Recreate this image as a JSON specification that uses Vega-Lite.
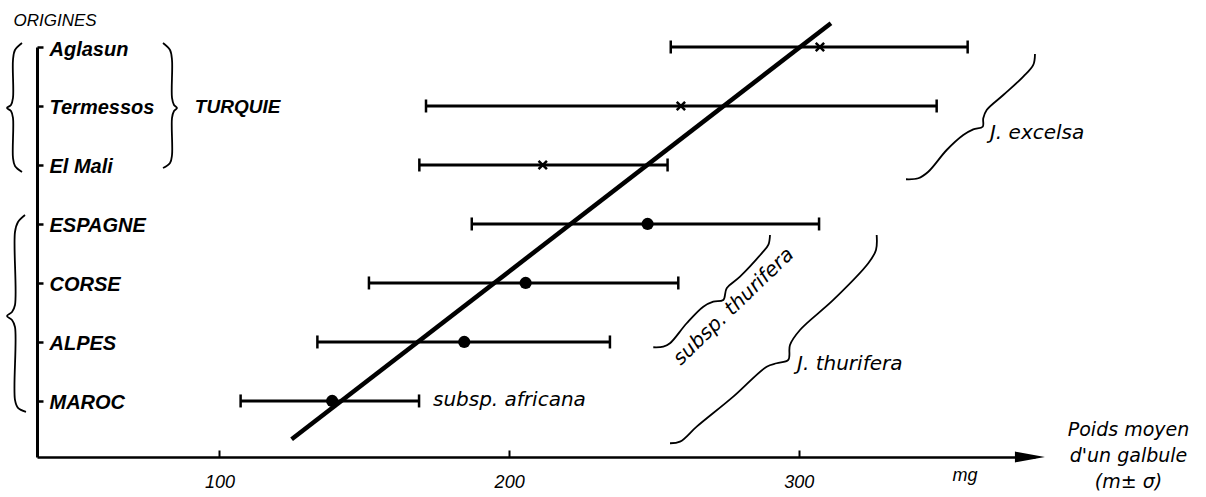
{
  "$schema": "https://vega.github.io/schema/vega-lite/v6.json",
  "width": 998,
  "height": 410,
  "autosize": "none",
  "padding": {"left": 37, "top": 47, "right": 171, "bottom": 40},
  "background": "white",
  "config": {"view": {"stroke": null}},
  "datasets": {
    "origins": [
      {"name": "Aglasun", "grp": "TURQUIE", "y": 7, "x": 307.3, "lo": 255.8, "hi": 358.3},
      {"name": "Termessos", "grp": "TURQUIE", "y": 6, "x": 259.3, "lo": 171.3, "hi": 347.6},
      {"name": "El Mali", "grp": "TURQUIE", "y": 5, "x": 211.6, "lo": 169.0, "hi": 254.7},
      {"name": "ESPAGNE", "grp": "thurifera", "y": 4, "x": 247.8, "lo": 187.1, "hi": 307.0},
      {"name": "CORSE", "grp": "thurifera", "y": 3, "x": 205.7, "lo": 151.6, "hi": 258.4},
      {"name": "ALPES", "grp": "thurifera", "y": 2, "x": 184.5, "lo": 133.8, "hi": 234.8},
      {"name": "MAROC", "grp": "africana", "y": 1, "x": 138.9, "lo": 107.3, "hi": 168.9}
    ],
    "fit": [
      {"i": 0, "x": 124.9, "y": 0.351},
      {"i": 1, "x": 311.1, "y": 7.402}
    ],
    "arrow": [{"x": 379.8, "y": 0.05}],
    "braces": [
      {"id": "b1", "i": 0, "x": 31.82, "y": 7.068},
      {"id": "b1", "i": 1, "x": 29.4, "y": 6.949},
      {"id": "b1", "i": 2, "x": 28.71, "y": 6.78},
      {"id": "b1", "i": 3, "x": 28.71, "y": 6.136},
      {"id": "b1", "i": 4, "x": 28.02, "y": 6.017},
      {"id": "b1", "i": 5, "x": 26.64, "y": 5.966},
      {"id": "b1", "i": 6, "x": 28.02, "y": 5.915},
      {"id": "b1", "i": 7, "x": 28.71, "y": 5.797},
      {"id": "b1", "i": 8, "x": 28.71, "y": 5.119},
      {"id": "b1", "i": 9, "x": 29.4, "y": 4.983},
      {"id": "b1", "i": 10, "x": 31.82, "y": 4.881},
      {"id": "b2", "i": 0, "x": 80.5, "y": 7.068},
      {"id": "b2", "i": 1, "x": 82.92, "y": 6.949},
      {"id": "b2", "i": 2, "x": 83.61, "y": 6.78},
      {"id": "b2", "i": 3, "x": 83.61, "y": 6.136},
      {"id": "b2", "i": 4, "x": 84.3, "y": 6.017},
      {"id": "b2", "i": 5, "x": 85.33, "y": 5.966},
      {"id": "b2", "i": 6, "x": 84.3, "y": 5.915},
      {"id": "b2", "i": 7, "x": 83.61, "y": 5.797},
      {"id": "b2", "i": 8, "x": 83.61, "y": 5.169},
      {"id": "b2", "i": 9, "x": 82.92, "y": 5.034},
      {"id": "b2", "i": 10, "x": 80.5, "y": 4.949},
      {"id": "b3", "i": 0, "x": 32.86, "y": 4.153},
      {"id": "b3", "i": 1, "x": 30.44, "y": 4.034},
      {"id": "b3", "i": 2, "x": 29.4, "y": 3.864},
      {"id": "b3", "i": 3, "x": 29.4, "y": 2.627},
      {"id": "b3", "i": 4, "x": 28.37, "y": 2.508},
      {"id": "b3", "i": 5, "x": 26.64, "y": 2.441},
      {"id": "b3", "i": 6, "x": 28.37, "y": 2.373},
      {"id": "b3", "i": 7, "x": 29.4, "y": 2.254},
      {"id": "b3", "i": 8, "x": 29.4, "y": 1.017},
      {"id": "b3", "i": 9, "x": 30.44, "y": 0.881},
      {"id": "b3", "i": 10, "x": 33.2, "y": 0.814},
      {"id": "b4", "i": 0, "x": 381.54, "y": 6.881},
      {"id": "b4", "i": 1, "x": 380.95, "y": 6.695},
      {"id": "b4", "i": 2, "x": 377.5, "y": 6.497},
      {"id": "b4", "i": 3, "x": 370.6, "y": 6.186},
      {"id": "b4", "i": 4, "x": 364.87, "y": 5.932},
      {"id": "b4", "i": 5, "x": 363.69, "y": 5.792},
      {"id": "b4", "i": 6, "x": 363.49, "y": 5.649},
      {"id": "b4", "i": 7, "x": 360.24, "y": 5.605},
      {"id": "b4", "i": 8, "x": 356.79, "y": 5.508},
      {"id": "b4", "i": 9, "x": 351.06, "y": 5.254},
      {"id": "b4", "i": 10, "x": 344.71, "y": 4.886},
      {"id": "b4", "i": 11, "x": 341.25, "y": 4.775},
      {"id": "b4", "i": 12, "x": 337.01, "y": 4.758},
      {"id": "b5", "i": 0, "x": 290.06, "y": 3.814},
      {"id": "b5", "i": 1, "x": 289.47, "y": 3.644},
      {"id": "b5", "i": 2, "x": 287.19, "y": 3.503},
      {"id": "b5", "i": 3, "x": 279.7, "y": 3.107},
      {"id": "b5", "i": 4, "x": 275.11, "y": 2.91},
      {"id": "b5", "i": 5, "x": 273.93, "y": 2.712},
      {"id": "b5", "i": 6, "x": 270.48, "y": 2.683},
      {"id": "b5", "i": 7, "x": 267.03, "y": 2.598},
      {"id": "b5", "i": 8, "x": 261.3, "y": 2.317},
      {"id": "b5", "i": 9, "x": 255.53, "y": 1.978},
      {"id": "b5", "i": 10, "x": 253.22, "y": 1.92},
      {"id": "b5", "i": 11, "x": 249.77, "y": 1.91},
      {"id": "b6", "i": 0, "x": 326.89, "y": 3.814},
      {"id": "b6", "i": 1, "x": 326.65, "y": 3.559},
      {"id": "b6", "i": 2, "x": 323.99, "y": 3.334},
      {"id": "b6", "i": 3, "x": 311.91, "y": 2.712},
      {"id": "b6", "i": 4, "x": 300.41, "y": 2.203},
      {"id": "b6", "i": 5, "x": 296.96, "y": 1.949},
      {"id": "b6", "i": 6, "x": 296.37, "y": 1.695},
      {"id": "b6", "i": 7, "x": 292.37, "y": 1.639},
      {"id": "b6", "i": 8, "x": 288.92, "y": 1.581},
      {"id": "b6", "i": 9, "x": 277.38, "y": 1.073},
      {"id": "b6", "i": 10, "x": 264.75, "y": 0.564},
      {"id": "b6", "i": 11, "x": 258.98, "y": 0.31},
      {"id": "b6", "i": 12, "x": 255.53, "y": 0.283}
    ],
    "notes": [
      {"kind": "note", "text": "J. excelsa", "x": 366.0, "y": 5.542},
      {"kind": "note", "text": "J. thurifera", "x": 299.4, "y": 1.627},
      {"kind": "note", "text": "subsp. africana", "x": 173.7, "y": 1.017},
      {"kind": "rot", "text": "subsp. thurifera", "x": 277.5, "y": 2.6},
      {"kind": "group", "text": "TURQUIE", "x": 91.5, "y": 5.983},
      {"kind": "unit", "text": "mg", "x": 357.4, "y": -0.271}
    ]
  },
  "encoding": {
    "x": {
      "field": "x", "type": "quantitative",
      "scale": {"domain": [37, 381.55], "nice": false, "zero": false},
      "axis": {
        "values": [100, 200, 300], "grid": false,
        "domainColor": "black", "domainWidth": 2.5,
        "tickColor": "black", "tickWidth": 2, "tickSize": -7,
        "labelPadding": 23, "labelFlush": false,
        "labelFont": "Liberation Sans", "labelFontSize": 18, "labelFontStyle": "italic", "labelColor": "black",
        "title": ["Poids moyen", "d'un galbule", "(m± σ)"],
        "titleX": 1091, "titleY": -37, "titleAlign": "center", "titleBaseline": "top",
        "titleFont": "DejaVu Sans", "titleFontSize": 19, "titleFontStyle": "italic", "titleFontWeight": "normal",
        "titleLineHeight": 26, "titleColor": "black"
      }
    },
    "y": {
      "field": "y", "type": "quantitative",
      "scale": {"domain": [0.05, 7], "nice": false, "zero": false},
      "axis": {
        "values": [1, 2, 3, 4, 5, 6, 7], "grid": false,
        "labelExpr": "['', 'MAROC', 'ALPES', 'CORSE', 'ESPAGNE', 'El Mali', 'Termessos', 'Aglasun'][datum.value]",
        "domainColor": "black", "domainWidth": 3,
        "tickColor": "black", "tickWidth": 2.5, "tickSize": -6,
        "labelPadding": -6, "labelAlign": "left", "labelBaseline": "middle", "labelOffset": 2,
        "labelFont": "Liberation Sans",
        "labelFontSize": 20, "labelFontStyle": "italic", "labelFontWeight": "bold", "labelColor": "black",
        "labelFlush": false, "labelOverlap": false, "labelBound": false,
        "title": "ORIGINES", "titleAngle": 0, "titleX": -24, "titleY": -27,
        "titleAlign": "left", "titleBaseline": "middle",
        "titleFont": "Liberation Sans",
        "titleFontSize": 17, "titleFontStyle": "italic", "titleFontWeight": "normal", "titleColor": "black"
      }
    }
  },
  "layer": [
    {
      "data": {"name": "braces"},
      "mark": {"type": "line", "color": "black", "strokeWidth": 1.8, "interpolate": "catmull-rom", "clip": false},
      "encoding": {"detail": {"field": "id"}, "order": {"field": "i", "type": "quantitative"}}
    },
    {
      "data": {"name": "fit"},
      "mark": {"type": "line", "color": "black", "strokeWidth": 4.5, "clip": false},
      "encoding": {"order": {"field": "i", "type": "quantitative"}}
    },
    {
      "data": {"name": "origins"},
      "transform": [{"fold": ["lo", "hi"], "as": ["side", "x"]}],
      "mark": {"type": "line", "color": "black", "strokeWidth": 3},
      "encoding": {"detail": {"field": "name"}, "order": {"field": "x", "type": "quantitative"}}
    },
    {
      "data": {"name": "origins"},
      "transform": [{"fold": ["lo", "hi"], "as": ["side", "x"]}],
      "mark": {"type": "tick", "orient": "vertical", "color": "black", "size": 13, "thickness": 2.5, "opacity": 1}
    },
    {
      "data": {"name": "origins"},
      "transform": [{"filter": "datum.grp != 'TURQUIE'"}],
      "mark": {"type": "point", "shape": "circle", "filled": true, "color": "black", "size": 150, "opacity": 1}
    },
    {
      "data": {"name": "origins"},
      "transform": [{"filter": "datum.grp == 'TURQUIE'"}],
      "mark": {"type": "point", "shape": "M-1,-1L1,1M-1,1L1,-1", "filled": false, "color": "black", "strokeWidth": 2.5, "size": 70, "opacity": 1}
    },
    {
      "data": {"name": "arrow"},
      "mark": {"type": "point", "shape": "M-1,-0.36L1,0L-1,0.36Z", "filled": true, "color": "black", "size": 900, "opacity": 1, "clip": false}
    },
    {
      "data": {"name": "notes"},
      "transform": [{"filter": "datum.kind == 'note'"}],
      "mark": {"type": "text", "align": "left", "baseline": "middle", "font": "DejaVu Sans", "fontSize": 20, "fontStyle": "italic", "color": "black", "clip": false},
      "encoding": {"text": {"field": "text"}}
    },
    {
      "data": {"name": "notes"},
      "transform": [{"filter": "datum.kind == 'rot'"}],
      "mark": {"type": "text", "align": "center", "baseline": "middle", "angle": 316, "font": "DejaVu Sans", "fontSize": 20, "fontStyle": "italic", "color": "black"},
      "encoding": {"text": {"field": "text"}}
    },
    {
      "data": {"name": "notes"},
      "transform": [{"filter": "datum.kind == 'group'"}],
      "mark": {"type": "text", "align": "left", "baseline": "middle", "font": "Liberation Sans", "fontSize": 19, "fontStyle": "italic", "fontWeight": "bold", "color": "black"},
      "encoding": {"text": {"field": "text"}}
    },
    {
      "data": {"name": "notes"},
      "transform": [{"filter": "datum.kind == 'unit'"}],
      "mark": {"type": "text", "align": "center", "baseline": "middle", "font": "Liberation Sans", "fontSize": 18, "fontStyle": "italic", "color": "black", "clip": false},
      "encoding": {"text": {"field": "text"}}
    }
  ]
}
